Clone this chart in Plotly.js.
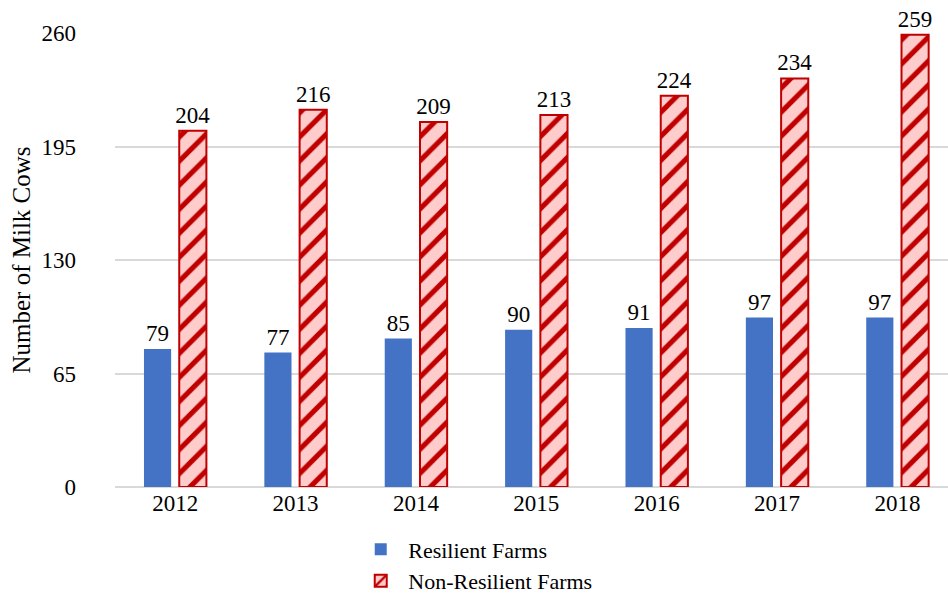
<!DOCTYPE html>
<html><head><meta charset="utf-8">
<script src="https://cdn.plot.ly/plotly-3.0.1.min.js"></script>
<style>html,body{margin:0;padding:0;background:#fff}#c{width:948px;height:595px}</style>
</head><body><div id="c"></div>
<script>
const years = ['2012','2013','2014','2015','2016','2017','2018'];
const resilient = [79, 77, 85, 90, 91, 97, 97];
const nonResilient = [204, 216, 209, 213, 224, 234, 259];
const yTicks = [0, 65, 130, 195, 260];

const FAM = 'Liberation Serif';
const f = (s) => ({family: FAM, size: s, color: '#000'});
const traces = [
  {type: 'bar', name: 'Resilient Farms', x: years, y: resilient,
   marker: {color: '#4472c4'}, text: resilient.map(String), textposition: 'outside',
   textfont: f(23), outsidetextfont: f(23), constraintext: 'none', cliponaxis: false},
  {type: 'bar', name: 'Non-Resilient Farms', x: years, y: nonResilient,
   marker: {color: '#ffcccc', line: {color: '#c00000', width: 2},
            pattern: {shape: '/', fgcolor: '#c00000', bgcolor: '#ffcccc', size: 17, solidity: 0.3, fillmode: 'replace'}},
   text: nonResilient.map(String), textposition: 'outside', textfont: f(23), outsidetextfont: f(23), constraintext: 'none', cliponaxis: false}
];
const layout = {
  width: 948, height: 595,
  margin: {l: 115, r: 0, t: 33, b: 108},
  paper_bgcolor: '#fff', plot_bgcolor: '#fff',
  font: f(23),
  barmode: 'group', bargap: 0.414, bargroupgap: 0.23,
  showlegend: true,
  legend: {orientation: 'v', x: 0.286, xanchor: 'left', yref: 'container', y: 0.112, yanchor: 'top',
           font: f(22), tracegroupgap: 0, itemwidth: 45},
  xaxis: {type: 'category', range: [-0.5, 6.42], showgrid: false, showline: false, ticks: '', tickfont: f(23), zeroline: false},
  yaxis: {range: [0, 260], tickvals: yTicks, ticktext: yTicks.map(String), showgrid: true, gridcolor: '#d9d9d9', gridwidth: 2,
          zeroline: true, zerolinecolor: '#d9d9d9', zerolinewidth: 2, showline: false, ticks: '', tickfont: f(23),
          ticklabelstandoff: 38,
          title: {text: 'Number of Milk Cows', font: f(25), standoff: 3}}
};
Plotly.newPlot('c', traces, layout, {displayModeBar: false});
</script></body></html>
